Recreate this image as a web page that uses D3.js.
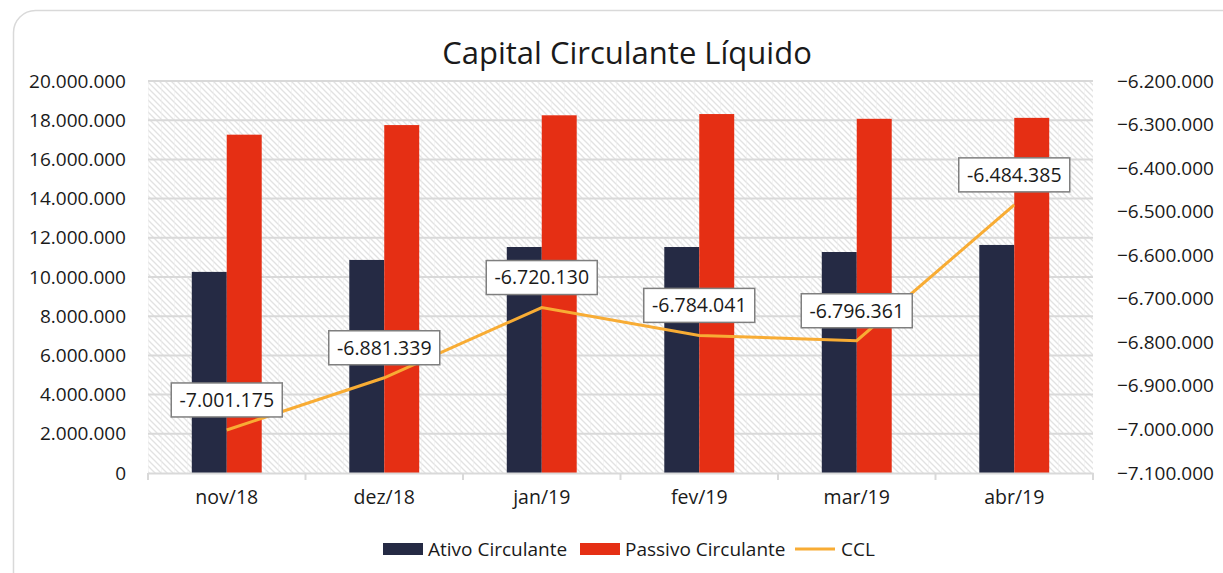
<!DOCTYPE html>
<html><head><meta charset="utf-8">
<script src="https://cdn.jsdelivr.net/npm/d3@7"></script>
<style>
html,body{margin:0;padding:0;background:#fff;}
svg{display:block;font-family:"Open Sans",sans-serif;}
</style></head>
<body>
<svg id="chart" width="1223" height="573"></svg>
<script>
const categories = ["nov/18","dez/18","jan/19","fev/19","mar/19","abr/19"];
const ativo = [10260000, 10870000, 11530000, 11530000, 11275000, 11635000];
const passivo = [17261175, 17751339, 18250130, 18314041, 18071361, 18119385];
const ccl = [-7001175, -6881339, -6720130, -6784041, -6796361, -6484385];
const cclLabels = ["-7.001.175","-6.881.339","-6.720.130","-6.784.041","-6.796.361","-6.484.385"];
const leftTicks = [0,2000000,4000000,6000000,8000000,10000000,12000000,14000000,16000000,18000000,20000000];
const rightTicks = [-7100000,-7000000,-6900000,-6800000,-6700000,-6600000,-6500000,-6400000,-6300000,-6200000];
const seriesNames = ["Ativo Circulante","Passivo Circulante","CCL"];
const colors = {ativo:"#252a44", passivo:"#e52f14", ccl:"#f8ac34"};

const fmt = v => d3.format(",")(v).replace(/,/g,".");

const svg = d3.select("#chart");
const L = 148, R = 1093, T = 81, B = 473;

// outer frame
svg.append("rect").attr("x",13.5).attr("y",10.5).attr("width",1260).attr("height",620)
  .attr("rx",22).attr("fill","#fff").attr("stroke","#d9d9d9").attr("stroke-width",1.5);

// hatch pattern
const defs = svg.append("defs");
const pat = defs.append("pattern").attr("id","hatch").attr("patternUnits","userSpaceOnUse")
  .attr("width",6).attr("height",6);
pat.append("rect").attr("width",6).attr("height",6).attr("fill","#fff");
pat.append("path").attr("d","M-1,-1 L7,7 M-4,2 L4,10 M2,-4 L10,4").attr("stroke","#e2e2e2").attr("stroke-width",1.3);
const pat2 = defs.append("pattern").attr("id","vlines").attr("patternUnits","userSpaceOnUse")
  .attr("x",L).attr("width",13).attr("height",13);
pat2.append("rect").attr("x",0).attr("width",1).attr("height",13).attr("fill","#eeeeee");

const x = d3.scaleBand().domain(categories).range([L,R]).paddingInner(0).paddingOuter(0);
const y = d3.scaleLinear().domain([0,20000000]).range([B,T]);
const y2 = d3.scaleLinear().domain([-7100000,-6200000]).range([B,T]);

svg.append("rect").attr("x",L).attr("y",T).attr("width",R-L).attr("height",B-T).attr("fill","url(#hatch)");
svg.append("rect").attr("x",L).attr("y",T).attr("width",R-L).attr("height",B-T).attr("fill","url(#vlines)").attr("opacity",0.5);

// gridlines
svg.append("g").selectAll("line").data(leftTicks.filter(d=>d>0)).join("line")
  .attr("x1",L).attr("x2",R).attr("y1",d=>y(d)).attr("y2",d=>y(d))
  .attr("stroke","#d9d9d9").attr("stroke-width",2);

// bars
const groupW = x.bandwidth()*0.444;
const barW = groupW/2;
const bars = svg.append("g");
bars.selectAll(".a").data(categories).join("rect")
  .attr("x",(d)=>x(d)+x.bandwidth()/2-barW).attr("width",barW)
  .attr("y",(d,i)=>y(ativo[i])).attr("height",(d,i)=>B-y(ativo[i])).attr("fill",colors.ativo);
bars.selectAll(".p").data(categories).join("rect")
  .attr("x",(d)=>x(d)+x.bandwidth()/2).attr("width",barW)
  .attr("y",(d,i)=>y(passivo[i])).attr("height",(d,i)=>B-y(passivo[i])).attr("fill",colors.passivo);

// x axis
const xAxis = svg.append("g").attr("transform",`translate(0,${B})`)
  .call(d3.axisBottom(x).tickSize(0).tickPadding(17));
xAxis.select(".domain").attr("stroke","#d9d9d9").attr("stroke-width",2);
xAxis.selectAll("text").attr("font-size",19.5).attr("fill","#1a1a1a").attr("font-family","Open Sans");
svg.append("g").selectAll("line").data(d3.range(categories.length+1)).join("line")
  .attr("x1",i=>L+i*x.bandwidth()).attr("x2",i=>L+i*x.bandwidth())
  .attr("y1",B).attr("y2",B+7).attr("stroke","#d9d9d9").attr("stroke-width",2);

// left axis
const yAxis = svg.append("g").attr("transform",`translate(${L},0)`)
  .call(d3.axisLeft(y).tickValues(leftTicks).tickFormat(fmt).tickSize(0).tickPadding(22));
yAxis.select(".domain").remove();
yAxis.selectAll("text").attr("font-size",19).attr("fill","#1a1a1a").attr("font-family","Open Sans");

// right axis
const y2Axis = svg.append("g").attr("transform",`translate(${R},0)`)
  .call(d3.axisRight(y2).tickValues(rightTicks).tickFormat(fmt).tickSize(0).tickPadding(24));
y2Axis.select(".domain").remove();
y2Axis.selectAll("text").attr("font-size",19).attr("fill","#1a1a1a").attr("font-family","Open Sans");

// line
const cx = d => x(d)+x.bandwidth()/2;
const line = d3.line().x((d,i)=>cx(categories[i])).y(d=>y2(d));
svg.append("path").datum(ccl).attr("d",line).attr("fill","none")
  .attr("stroke",colors.ccl).attr("stroke-width",3);

// labels
const lab = svg.append("g").selectAll("g").data(ccl).join("g")
  .attr("transform",(d,i)=>`translate(${cx(categories[i])},${y2(d)-30})`);
lab.append("rect").attr("x",-55.5).attr("y",-17).attr("width",111).attr("height",34)
  .attr("fill","#fff").attr("stroke","#7f7f7f").attr("stroke-width",1.5);
lab.append("text").attr("text-anchor","middle").attr("dy","0.35em")
  .attr("font-size",19.5).attr("fill","#1a1a1a").text((d,i)=>cclLabels[i]);

// title
svg.append("text").attr("x",627).attr("y",64).attr("text-anchor","middle")
  .attr("font-size",31).attr("fill","#1a1a1a").text("Capital Circulante Líquido");

// legend
const lg = svg.append("g");
lg.append("rect").attr("x",383).attr("y",543).attr("width",40).attr("height",12).attr("fill",colors.ativo);
lg.append("text").attr("x",428).attr("y",556).attr("font-size",19).attr("fill","#1a1a1a").text(seriesNames[0]);
lg.append("rect").attr("x",580).attr("y",543).attr("width",40).attr("height",12).attr("fill",colors.passivo);
lg.append("text").attr("x",625).attr("y",556).attr("font-size",19).attr("fill","#1a1a1a").text(seriesNames[1]);
lg.append("line").attr("x1",795).attr("x2",835).attr("y1",549).attr("y2",549).attr("stroke",colors.ccl).attr("stroke-width",3);
lg.append("text").attr("x",841).attr("y",556).attr("font-size",19).attr("fill","#1a1a1a").text(seriesNames[2]);
</script>
</body></html>
